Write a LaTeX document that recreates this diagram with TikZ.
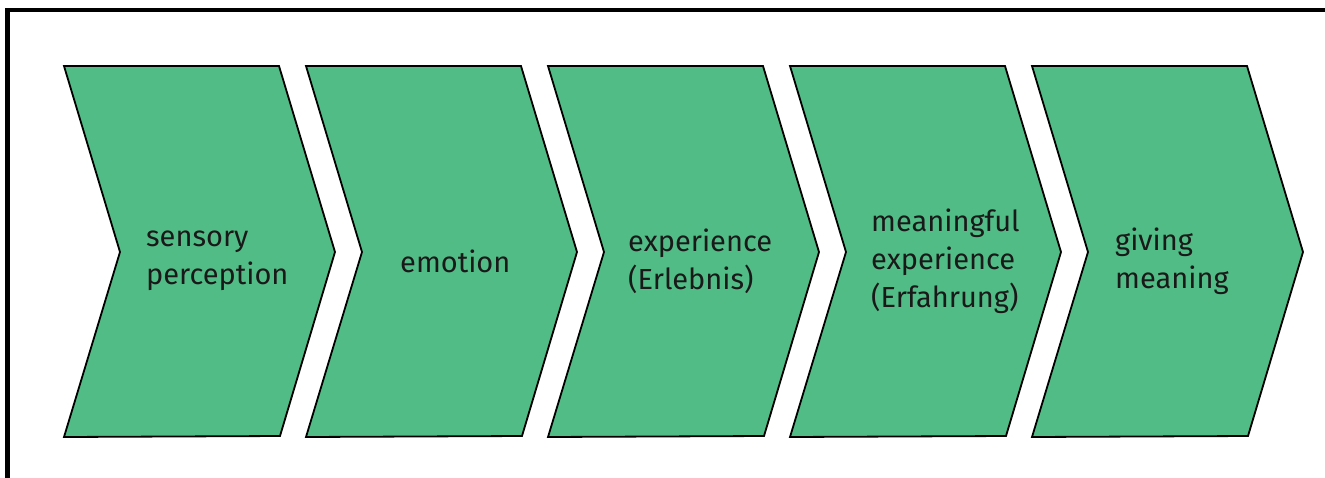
\documentclass[tikz,border=0pt]{standalone}
\usepackage{fontspec}
\setmainfont{Fira Sans}
\definecolor{chev}{HTML}{52BC86}
\begin{document}
\begin{tikzpicture}[x=1pt,y=-1pt,
  chevron/.style={fill=chev,draw=black,line width=1.8pt,line join=miter},
  lbl/.style={anchor=west,inner sep=0pt,align=left,font=\fontsize{29}{38}\selectfont,text=black!90}]
\useasboundingbox (0,0) rectangle (1325,477);
\draw[line width=4.5pt] (7.5,480) -- (7.5,10) -- (1330,10);
\foreach \x in {64,306,548,790,1032}{
  \draw[chevron] (\x,66) -- (\x+215,66) -- (\x+271,252) -- (\x+216,436) -- (\x,437) -- (\x+56,252) -- cycle;
}
\node[lbl] (t1) at (146,261) {sensory\\perception};
\node[lbl] (t2) at (400,261) {emotion};
\node[lbl] (t3) at (628,261) {experience\\(Erlebnis)};
\node[lbl] (t4) at (871,261) {meaningful\\experience\\(Erfahrung)};
\node[lbl] (t5) at (1115,261) {giving\\meaning};
\end{tikzpicture}
\end{document}
